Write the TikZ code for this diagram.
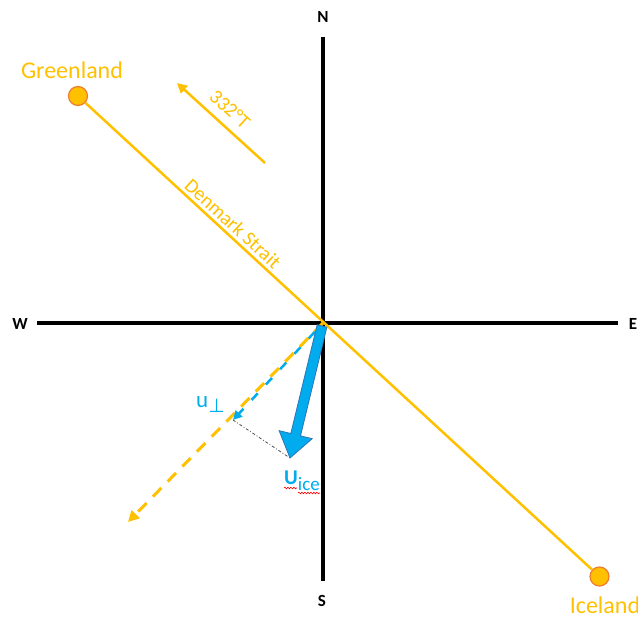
\documentclass[tikz,border=0pt]{standalone}
\usepackage{fontspec}
\setmainfont{Carlito}
\newfontfamily\dejavu{DejaVu Sans}
\usetikzlibrary{arrows.meta,calc,decorations.pathmorphing}
\definecolor{gold}{RGB}{255,192,0}
\definecolor{goldedge}{RGB}{237,125,49}
\definecolor{skyb}{RGB}{0,172,238}
\definecolor{skyedge}{RGB}{46,117,182}
\tikzset{
  axisline/.style={line width=4pt, black},
  compass/.style={font=\fontsize{17}{20}\selectfont\bfseries, text=black, inner sep=1pt},
  place/.style={circle, draw=goldedge, fill=gold, line width=1.2pt, minimum size=19pt, inner sep=0pt},
  placelabel/.style={text=gold, font=\fontsize{24}{28}\selectfont, inner sep=1pt},
  strait/.style={draw=gold, line width=2.5pt},
  goldtext/.style={text=gold, font=\fontsize{20}{24}\selectfont, inner sep=1pt},
  bluetext/.style={text=skyb, font=\fontsize{20}{24}\selectfont, inner sep=1pt},
  wavy/.style={red, line width=0.6pt, decorate, decoration={snake, amplitude=0.8pt, segment length=3pt}},
}
\begin{document}
\begin{tikzpicture}[x=1pt,y=-1pt]
\useasboundingbox (0,0) rectangle (638,617);
\clip (0,0) rectangle (638,617);

% axes
\coordinate (O) at (323,323);
\coordinate (Nend) at (323,37);
\coordinate (Send) at (323,581);
\coordinate (Wend) at (37,323);
\coordinate (Eend) at (618,323);
\draw[axisline] (Nend) -- (Send);
\draw[axisline] (Wend) -- (Eend);
\node[compass] (N) at (323,17) {N};
\node[compass] (S) at (322,601) {S};
\node[compass] (W) at (20,324) {W};
\node[compass] (E) at (633,324) {E};

% Denmark Strait line
\node[place] (GL) at (78,96) {};
\node[place] (IS) at (599.5,576.5) {};
\draw[strait] (GL) -- (IS) node[goldtext, pos=0.276, sloped, above=2pt] (DS) {Denmark Strait};
\node[placelabel] (GLt) at (72,70) {Greenland};
\node[placelabel] (ISt) at (605,605) {Iceland};

% 332 T heading arrow
\coordinate (Hstart) at (265,163);
\coordinate (Hend) at (177,83);
\draw[gold, line width=2.5pt, -{Triangle[length=10pt,width=10pt]}] (Hstart) -- (Hend);
\node[goldtext, rotate=-42] (HL) at (230,109) {332°T};

% dashed direction
\coordinate (Dend) at (128,522);
\draw[gold, line width=3pt, dash pattern=on 12pt off 9pt, -{Triangle[length=11pt,width=11pt]}] (O) -- (Dend);
\coordinate (Uperp) at (233,420);
\draw[skyb, line width=2.5pt, dash pattern=on 0pt off 12pt on 9pt off 0pt, -{Triangle[length=9pt,width=9pt]}] (O) -- (Uperp);

% projection line
\coordinate (Utip) at (290,458);
\coordinate (Utail) at (322,326);
\draw[black!70, line width=0.8pt, dash dot] (Uperp) -- (Utip);

% big ice velocity arrow
\coordinate (B) at ($(Utip)!24pt!(Utail)$);
\filldraw[fill=skyb, draw=skyedge, line width=0.8pt, line join=miter]
  ($(Utail)!5pt!90:(B)$) -- ($(B)!5pt!-90:(Utail)$) -- ($(B)!17pt!-90:(Utail)$) -- (Utip)
  -- ($(B)!17pt!90:(Utail)$) -- ($(B)!5pt!90:(Utail)$) -- ($(Utail)!5pt!-90:(B)$) -- cycle;

% labels
\node[bluetext, anchor=base west, inner sep=0pt] (uperpl) at (196,408) {{\fontsize{23}{26}\selectfont u}\raisebox{-5pt}{\dejavu\fontsize{19}{22}\selectfont ⊥}};
\node[bluetext, anchor=base west, inner sep=0pt] (Uice) at (284,485) {{\fontsize{21}{26}\selectfont\bfseries U}\raisebox{-6pt}{\fontsize{19}{22}\selectfont ice}};
\draw[wavy] (284,488) -- (297,488);
\draw[wavy] (298,493) -- (320,493);
\end{tikzpicture}
\end{document}
